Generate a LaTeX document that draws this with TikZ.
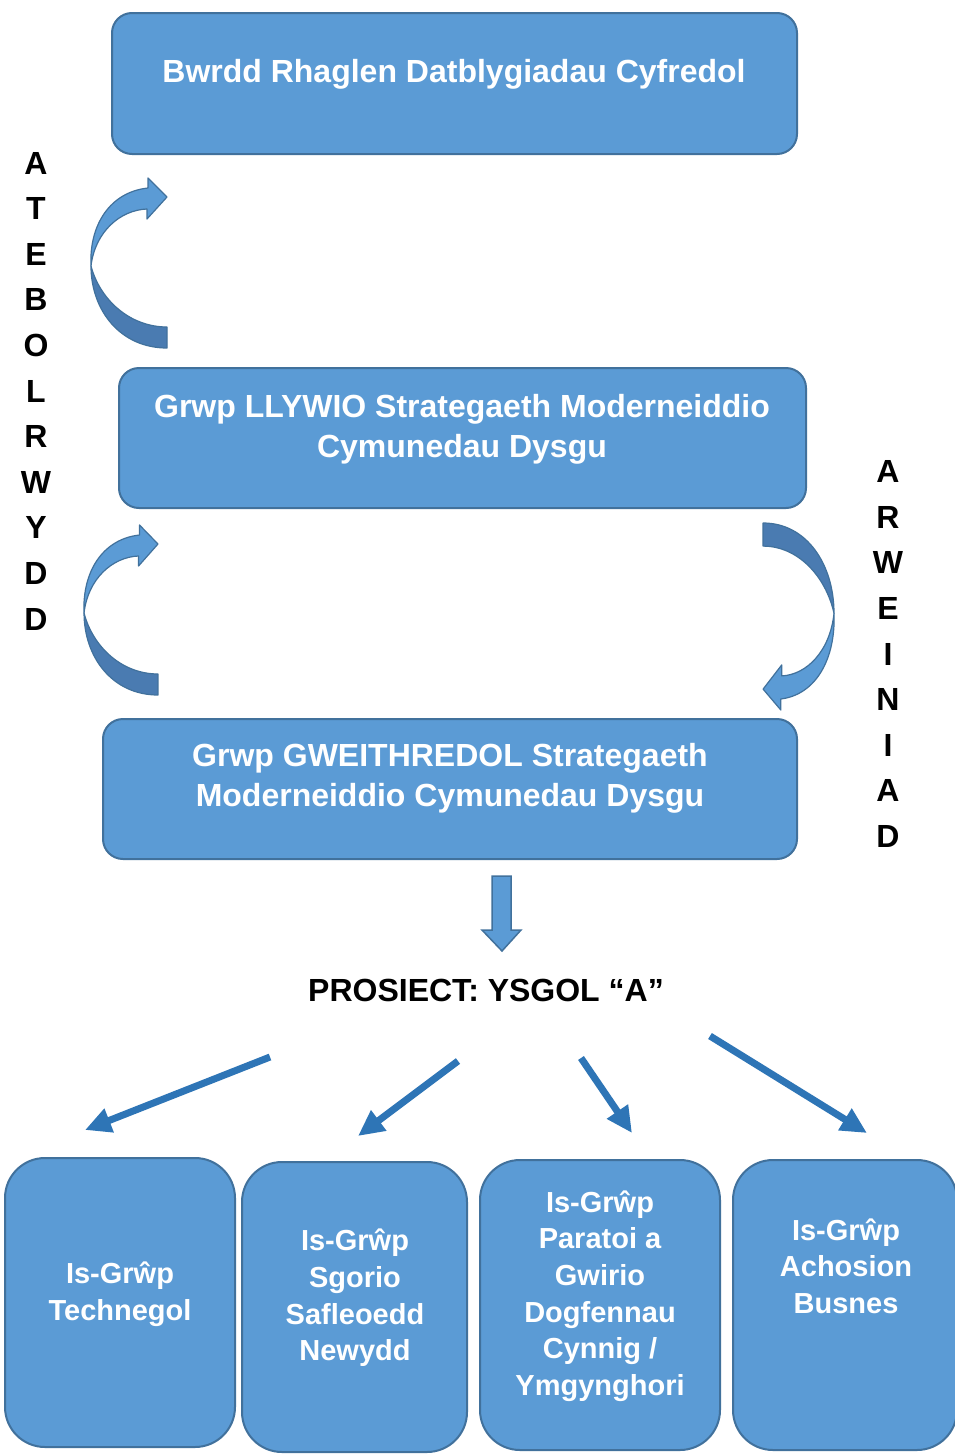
\documentclass[tikz,border=0pt]{standalone}
\usepackage{fontspec}
\setmainfont{Liberation Sans}
\usetikzlibrary{arrows.meta}
\definecolor{boxfill}{HTML}{5B9BD5}
\definecolor{boxline}{HTML}{41719C}
\definecolor{darkpart}{HTML}{4A7BB1}
\definecolor{arrowblue}{HTML}{2E75B6}
\tikzset{
  bigbox/.style={draw=boxline, fill=boxfill, line width=2pt, rounded corners=20pt, inner sep=0pt},
  smallbox/.style={draw=boxline, fill=boxfill, line width=2pt, rounded corners=40pt, inner sep=0pt},
  bigtext/.style={text=white, font=\fontsize{32}{40}\selectfont\bfseries, align=center, inner sep=0pt},
  smalltext/.style={text=white, font=\fontsize{29}{36.6}\selectfont\bfseries, align=center, inner sep=0pt},
  sidetext/.style={text=black, font=\fontsize{32}{45.6}\selectfont\bfseries, align=center, inner sep=0pt},
  thinarrow/.style={draw=arrowblue, line width=7pt, -{Triangle[length=26pt,width=24pt]}},
  curvelight/.style={fill=boxfill, draw=boxline, line width=1.2pt, line join=round},
  curvedark/.style={fill=darkpart, draw=boxline, line width=1.2pt, line join=round},
}
\newcommand{\curvedarrowshape}{%
  \path[curvedark] (91,266) .. controls (91,310) and (120,348) .. (167,348)
     -- (167,327) .. controls (130,327) and (100,300) .. (91,266) -- cycle;
  \path[curvelight] (91,266) .. controls (89,225) and (110,192) .. (148,188)
     -- (148,178) -- (167,197) -- (147,219) -- (147,209)
     .. controls (120,210) and (95,232) .. (91,266) -- cycle;
}
\begin{document}
\begin{tikzpicture}[x=1pt,y=-1pt]
\useasboundingbox (0,0) rectangle (955,1454);
\fill[white] (0,0) rectangle (955,1454);

% main boxes
\node[bigbox, minimum width=685pt, minimum height=141pt] (b1) at (454.5,83.5) {};
\node[bigtext] (t1) at (454,74) {Bwrdd Rhaglen Datblygiadau Cyfredol};
\node[bigbox, minimum width=687pt, minimum height=140pt] (b2) at (462.5,438) {};
\node[bigtext] (t2) at (462,429) {Grwp LLYWIO Strategaeth Moderneiddio\\Cymunedau Dysgu};
\node[bigbox, minimum width=694pt, minimum height=140pt] (b3) at (450,789) {};
\node[bigtext] (t3) at (450,778) {Grwp GWEITHREDOL Strategaeth\\Moderneiddio Cymunedau Dysgu};

% side texts
\node[sidetext] (atebol) at (36,391) {A\\T\\E\\B\\O\\L\\R\\W\\Y\\D\\D};
\node[sidetext] (arwein) at (888,654) {A\\R\\W\\E\\I\\N\\I\\A\\D};

% curved arrows
\curvedarrowshape
\begin{scope}[shift={(-4.5,347)}, xscale=0.973]
\curvedarrowshape
\end{scope}
\begin{scope}[shift={(918.9,905.8)}, xscale=-0.933, yscale=-1.1]
\curvedarrowshape
\end{scope}

% down block arrow
\path[fill=boxfill, draw=boxline, line width=1.5pt, line join=miter]
  (492,876) -- (511,876) -- (511,930) -- (521,930) -- (502,951) -- (482,930) -- (492,930) -- cycle;

% project label
\node[text=black, font=\fontsize{32}{40}\selectfont\bfseries, inner sep=0pt] (proj) at (486,990) {PROSIECT: YSGOL “A”};

% bottom boxes
\node[smallbox, minimum width=230pt, minimum height=289pt] (s1) at (120,1302.5) {};
\node[smalltext] (st1) at (120,1294) {Is-Grŵp\\Technegol};
\node[smallbox, minimum width=225pt, minimum height=290pt] (s2) at (354.5,1307) {};
\node[smalltext] (st2) at (355,1298) {Is-Grŵp\\Sgorio\\Safleoedd\\Newydd};
\node[smallbox, minimum width=240pt, minimum height=290pt] (s3) at (600,1305) {};
\node[smalltext] (st3) at (600,1296) {Is-Grŵp\\Paratoi a\\Gwirio\\Dogfennau\\Cynnig /\\Ymgynghori};
\node[smallbox, minimum width=224pt, minimum height=290pt] (s4) at (845,1305) {};
\node[smalltext] (st4) at (846,1266) {Is-Grŵp\\Achosion\\Busnes};

% straight arrows
\coordinate (a1s) at (270,1057); \coordinate (a1e) at (85,1130);
\coordinate (a2s) at (458,1061); \coordinate (a2e) at (358,1136);
\coordinate (a3s) at (581,1058); \coordinate (a3e) at (632,1133);
\coordinate (a4s) at (710,1036); \coordinate (a4e) at (867,1133);
\draw[thinarrow] (a1s) -- (a1e);
\draw[thinarrow] (a2s) -- (a2e);
\draw[thinarrow] (a3s) -- (a3e);
\draw[thinarrow] (a4s) -- (a4e);
\end{tikzpicture}
\end{document}
